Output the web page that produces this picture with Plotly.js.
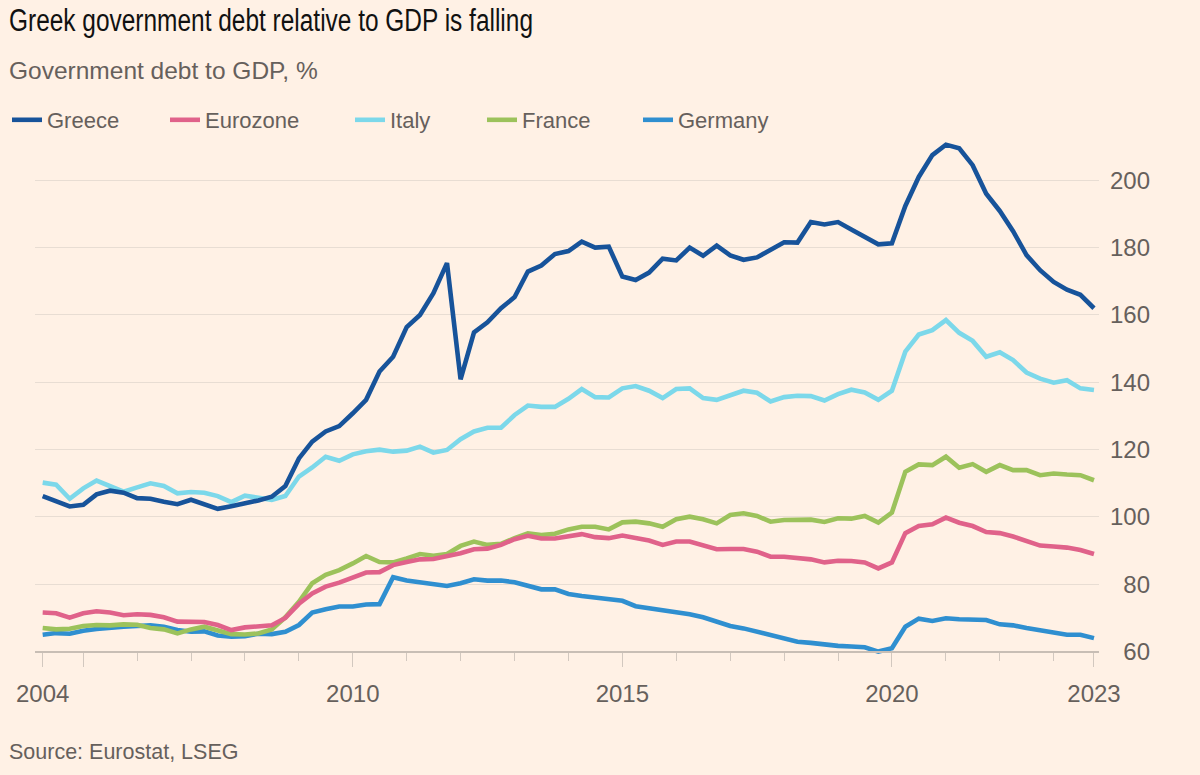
<!DOCTYPE html>
<html>
<head>
<meta charset="utf-8">
<script src="https://cdn.plot.ly/plotly-3.0.1.min.js"></script>
<style>html,body{margin:0;padding:0;background:#fff1e5;}</style>
</head>
<body>
<div id="chart" style="width:1200px;height:775px;"></div>
<script>
// Quarterly observations (dated at quarter start), 2004 Q2 – 2023 Q4
const quarters = [
  '2004-04-01','2004-07-01','2004-10-01',
  '2005-01-01','2005-04-01','2005-07-01','2005-10-01',
  '2006-01-01','2006-04-01','2006-07-01','2006-10-01',
  '2007-01-01','2007-04-01','2007-07-01','2007-10-01',
  '2008-01-01','2008-04-01','2008-07-01','2008-10-01',
  '2009-01-01','2009-04-01','2009-07-01','2009-10-01',
  '2010-01-01','2010-04-01','2010-07-01','2010-10-01',
  '2011-01-01','2011-04-01','2011-07-01','2011-10-01',
  '2012-01-01','2012-04-01','2012-07-01','2012-10-01',
  '2013-01-01','2013-04-01','2013-07-01','2013-10-01',
  '2014-01-01','2014-04-01','2014-07-01','2014-10-01',
  '2015-01-01','2015-04-01','2015-07-01','2015-10-01',
  '2016-01-01','2016-04-01','2016-07-01','2016-10-01',
  '2017-01-01','2017-04-01','2017-07-01','2017-10-01',
  '2018-01-01','2018-04-01','2018-07-01','2018-10-01',
  '2019-01-01','2019-04-01','2019-07-01','2019-10-01',
  '2020-01-01','2020-04-01','2020-07-01','2020-10-01',
  '2021-01-01','2021-04-01','2021-07-01','2021-10-01',
  '2022-01-01','2022-04-01','2022-07-01','2022-10-01',
  '2023-01-01','2023-04-01','2023-07-01','2023-10-01'
];

const greece = [
  106.2,104.8,103.1,
  103.6,106.7,107.8,107.2,
  105.6,105.4,104.5,103.8,
  105.1,103.9,102.4,103.2,
  103.9,104.9,106.0,109.2,
  117.4,122.4,125.4,127.0,
  130.8,134.8,143.2,147.6,
  156.4,160.0,166.5,175.4,
  140.9,154.8,157.8,162.0,
  165.3,172.9,174.7,178.1,
  179.0,181.8,180.0,180.3,
  171.4,170.4,172.6,176.7,
  176.2,180.0,177.6,180.6,
  177.7,176.4,177.1,179.3,
  181.6,181.5,187.6,186.9,
  187.6,185.4,183.4,181.0,
  181.3,192.4,201.0,207.5,
  210.6,209.5,204.5,196.0,
  190.9,184.9,177.8,173.3,
  169.8,167.5,166.0,162.0
];

const eurozone = [
  71.6,71.4,70.1,
  71.4,72.0,71.6,70.8,
  71.1,70.9,70.2,68.9,
  68.9,68.8,67.9,66.4,
  67.2,67.6,67.8,70.0,
  74.2,77.3,79.3,80.5,
  82.1,83.5,83.6,85.7,
  86.6,87.4,87.5,88.2,
  89.2,90.4,90.6,91.7,
  93.4,94.4,93.6,93.6,
  94.2,94.9,94.0,93.7,
  94.5,93.7,93.0,91.7,
  92.7,92.7,91.4,90.4,
  90.5,90.5,89.7,88.2,
  88.2,87.7,87.4,86.5,
  87.0,86.9,86.5,84.7,
  86.5,95.2,97.3,97.8,
  99.8,98.3,97.3,95.5,
  95.2,94.2,92.9,91.5,
  91.2,90.9,90.2,89.0
];

const italy = [
  110.2,109.6,105.4,
  108.5,110.8,109.3,107.5,
  108.8,110.0,109.2,107.0,
  107.4,107.2,106.2,104.4,
  106.3,105.7,105.1,106.2,
  112.0,114.7,117.9,116.7,
  118.6,119.5,120.0,119.4,
  119.7,120.9,119.1,119.9,
  123.1,125.4,126.5,126.5,
  130.3,133.1,132.7,132.7,
  135.1,138.0,135.6,135.5,
  138.2,138.9,137.5,135.3,
  138.0,138.2,135.3,134.8,
  136.3,137.5,136.9,134.3,
  135.6,136.0,135.9,134.6,
  136.5,137.8,137.0,134.8,
  137.5,149.1,154.2,155.5,
  158.5,154.7,152.3,147.6,
  148.9,146.6,142.9,141.1,
  139.9,140.6,138.2,137.7
];

const france = [
  67.0,66.6,66.8,
  67.6,67.9,67.8,68.1,
  68.0,67.0,66.6,65.4,
  66.6,67.4,66.4,65.2,
  65.1,65.4,66.6,70.2,
  74.8,80.3,82.8,84.2,
  86.2,88.4,86.6,86.5,
  87.7,89.0,88.5,89.0,
  91.4,92.7,91.7,92.0,
  93.7,95.1,94.6,95.0,
  96.3,97.1,97.1,96.3,
  98.4,98.6,98.1,97.1,
  99.3,100.1,99.3,98.1,
  100.6,101.1,100.3,98.6,
  99.1,99.1,99.2,98.5,
  99.6,99.5,100.3,98.3,
  101.3,113.4,115.6,115.4,
  117.9,114.6,115.7,113.4,
  115.4,113.9,113.9,112.4,
  112.9,112.6,112.4,110.9
];

const germany = [
  65.0,65.5,65.3,
  66.2,66.7,67.2,67.4,
  67.6,67.8,67.4,66.4,
  65.9,66.0,64.8,64.4,
  64.6,65.3,65.2,65.9,
  67.9,71.6,72.6,73.4,
  73.4,74.0,74.1,82.1,
  81.1,80.6,80.1,79.5,
  80.3,81.5,81.1,81.1,
  80.6,79.6,78.5,78.5,
  77.1,76.5,76.0,75.5,
  75.1,73.5,72.9,72.2,
  71.8,71.1,70.2,68.9,
  67.6,66.9,65.9,65.1,
  63.9,62.9,62.6,62.1,
  61.7,61.5,61.3,60.0,
  61.0,67.4,69.8,69.1,
  69.9,69.6,69.4,69.4,
  68.1,67.8,67.0,66.3,
  65.7,65.0,65.0,64.0
];

const seriesNames = ['Greece','Eurozone','Italy','France','Germany'];
const seriesColors = ['#17539a','#e0628a','#7cd8ea','#9cc25b','#2f8fd0'];
const seriesValues = [greece, eurozone, italy, france, germany];
const legendIds = ['legend','legend2','legend3','legend4','legend5'];
const legendTextX = [47, 205, 390, 522, 678];

const yTicks = [60, 80, 100, 120, 140, 160, 180, 200];
const xTickVals = ['2004-04-01','2005-01-01','2010-01-01','2015-01-01','2020-01-01','2023-10-01'];
const xTickText = ['2004','','2010','2015','2020','2023'];

const W = 1200, H = 775;
const labelColor = '#66605c';
const baseFont = 'Liberation Sans, Arial, sans-serif';

// draw order: Germany first, Greece last (on top)
const drawOrder = [4, 3, 1, 2, 0];
const traces = drawOrder.map(k => ({
  type: 'scatter',
  mode: 'lines',
  name: seriesNames[k],
  x: quarters,
  y: seriesValues[k],
  line: {color: seriesColors[k], width: 4.6},
  legend: legendIds[k],
  hoverinfo: 'x+y+name'
}));

const layout = {
  width: W, height: H,
  margin: {l: 0, r: 0, t: 0, b: 0},
  paper_bgcolor: '#fff1e5',
  plot_bgcolor: '#fff1e5',
  font: {family: baseFont, color: labelColor},
  title: {
    text: 'Greek government debt relative to GDP is falling',
    font: {family: 'Liberation Sans Narrow, Arial Narrow, Liberation Sans, sans-serif', size: 31, color: '#111111'},
    xref: 'container', x: 9 / W, xanchor: 'left',
    yref: 'container', y: 1 - 20 / H, yanchor: 'middle'
  },
  xaxis: {
    type: 'date',
    domain: [35 / W, 1099 / W],
    range: ['2004-02-09', '2023-11-04'],
    anchor: 'free',
    position: 1 - 652 / H,
    showline: true, linecolor: '#c8beb5', linewidth: 1.5,
    showgrid: false, zeroline: false,
    tickmode: 'array', tickvals: xTickVals, ticktext: xTickText,
    ticks: 'outside', ticklen: 14, tickwidth: 1, tickcolor: '#d2c8bf',
    ticklabelstandoff: 6,
    tickfont: {family: baseFont, size: 24, color: labelColor},
    minor: {tickmode: 'linear', tick0: '2005-01-01', dtick: 'M12', ticks: 'outside', ticklen: 8, tickwidth: 1, tickcolor: '#d2c8bf', showgrid: false},
    fixedrange: true
  },
  yaxis: {
    domain: [1 - 658 / H, 1 - 140 / H],
    range: [58.1, 211.98],
    anchor: 'free',
    position: 1150 / W,
    side: 'left',
    tickmode: 'array', tickvals: yTicks,
    ticks: '', showline: false, zeroline: false,
    showgrid: true, gridcolor: '#e8ddd3', gridwidth: 1,
    tickfont: {family: baseFont, size: 24, color: labelColor},
    fixedrange: true
  },
  annotations: [
    {text: 'Government debt to GDP, %', xref: 'paper', yref: 'paper', x: 7 / W, y: 1 - 70 / H,
     xanchor: 'left', yanchor: 'middle', showarrow: false,
     font: {family: baseFont, size: 24.5, color: labelColor}},
    {text: 'Source: Eurostat, LSEG', xref: 'paper', yref: 'paper', x: 7 / W, y: 1 - 752 / H,
     xanchor: 'left', yanchor: 'middle', showarrow: false,
     font: {family: baseFont, size: 21.5, color: labelColor}}
  ],
  showlegend: true
};

legendIds.forEach((id, k) => {
  layout[id] = {
    orientation: 'h',
    x: (legendTextX[k] - 40) / W, xanchor: 'left',
    y: 1 - 120 / H, yanchor: 'middle',
    bgcolor: 'rgba(0,0,0,0)',
    borderwidth: 0,
    font: {family: baseFont, size: 22, color: labelColor},
    itemclick: false, itemdoubleclick: false
  };
});

Plotly.newPlot('chart', traces, layout, {displayModeBar: false}).then(gd => {
  // The headline font is condensed in the original; fit the title text to its width.
  const t = gd.querySelector('.gtitle');
  if (t) {
    const w = t.getComputedTextLength();
    const target = 524;
    if (w > target) {
      t.setAttribute('textLength', target);
      t.setAttribute('lengthAdjust', 'spacingAndGlyphs');
    }
  }
});
</script>
</body>
</html>
